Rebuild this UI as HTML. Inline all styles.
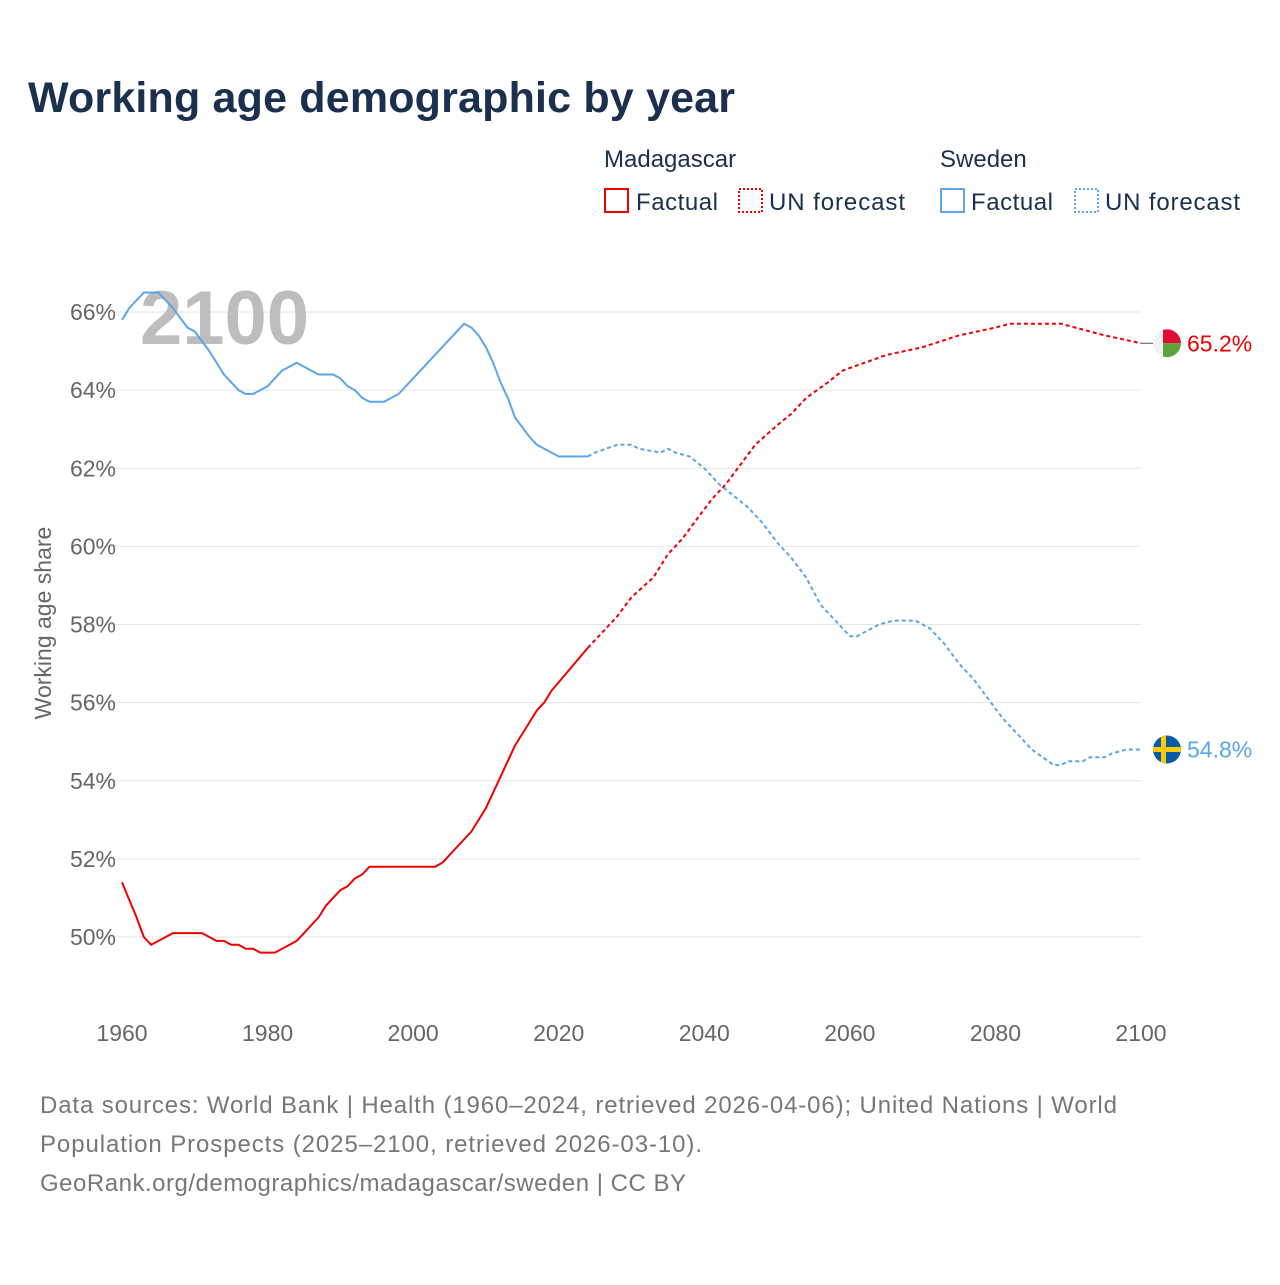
<!DOCTYPE html>
<html><head><meta charset="utf-8"><style>
body{margin:0;background:#fff;font-family:"Liberation Sans",sans-serif;}
svg text{font-family:"Liberation Sans",sans-serif;}
</style></head><body>
<svg width="1280" height="1280" xmlns="http://www.w3.org/2000/svg">
<text x="28" y="112" font-size="43" font-weight="bold" fill="#1b2f4f" textLength="707">Working age demographic by year</text>
<g font-size="24" fill="#1b2f4f">
<text x="604" y="167">Madagascar</text>
<text x="940" y="167">Sweden</text>
<rect x="605" y="189" width="23" height="23" fill="none" stroke="#ee0000" stroke-width="2"/>
<text x="636" y="210" textLength="82">Factual</text>
<rect x="739" y="189" width="23" height="23" fill="none" stroke="#ee0000" stroke-width="2" stroke-dasharray="2,2"/>
<text x="769" y="210" textLength="136">UN forecast</text>
<rect x="941" y="189" width="23" height="23" fill="none" stroke="#5aa5ec" stroke-width="2"/>
<text x="971" y="210" textLength="82">Factual</text>
<rect x="1075" y="189" width="23" height="23" fill="none" stroke="#5aa5ec" stroke-width="2" stroke-dasharray="2,2"/>
<text x="1105" y="210" textLength="135">UN forecast</text>
</g>
<g id="grid"></g>
<text x="140" y="344" font-size="76" font-weight="bold" fill="#bdbdbd">2100</text>
<text transform="translate(51,623) rotate(-90)" text-anchor="middle" font-size="23" fill="#666">Working age share</text>
<g id="plot"></g>
<g font-size="24" fill="#777">
<text x="40" y="1113" textLength="1077">Data sources: World Bank | Health (1960–2024, retrieved 2026-04-06); United Nations | World</text>
<text x="40" y="1152" textLength="662">Population Prospects (2025–2100, retrieved 2026-03-10).</text>
<text x="40" y="1191" textLength="646">GeoRank.org/demographics/madagascar/sweden | CC BY</text>
</g>
</svg>
<script>
const yTicks=[50,52,54,56,58,60,62,64,66];
const xTicks=[1960,1980,2000,2020,2040,2060,2080,2100];
const mdgFactualYears=[1960,1962,1963,1964,1966,1967,1970,1971,1973,1974,1975,1976,1977,1978,1979,1981,1984,1987,1988,1990,1991,1992,1993,1994,2003,2004,2008,2010,2012,2014,2017,2018,2019,2024];
const mdgFactual=[51.4,50.5,50.0,49.8,50.0,50.1,50.1,50.1,49.9,49.9,49.8,49.8,49.7,49.7,49.6,49.6,49.9,50.5,50.8,51.2,51.3,51.5,51.6,51.8,51.8,51.9,52.7,53.3,54.1,54.9,55.8,56.0,56.3,57.4];
const mdgForecastYears=[2024,2025,2028,2030,2033,2035,2037,2039,2041,2043,2045,2047,2050,2052,2054,2057,2059,2062,2065,2070,2075,2080,2082,2089,2091,2095,2100];
const mdgForecast=[57.4,57.6,58.2,58.7,59.2,59.8,60.2,60.7,61.2,61.6,62.1,62.6,63.1,63.4,63.8,64.2,64.5,64.7,64.9,65.1,65.4,65.6,65.7,65.7,65.6,65.4,65.2];
const sweFactualYears=[1960,1961,1963,1965,1967,1969,1970,1972,1974,1976,1977,1978,1980,1982,1984,1987,1989,1990,1991,1992,1993,1994,1996,1998,2007,2008,2009,2010,2011,2012,2013,2014,2016,2017,2020,2024];
const sweFactual=[65.8,66.1,66.5,66.5,66.1,65.6,65.5,65.0,64.4,64.0,63.9,63.9,64.1,64.5,64.7,64.4,64.4,64.3,64.1,64.0,63.8,63.7,63.7,63.9,65.7,65.6,65.4,65.1,64.7,64.2,63.8,63.3,62.8,62.6,62.3,62.3];
const sweForecastYears=[2024,2025,2028,2030,2031,2034,2035,2036,2038,2040,2042,2044,2046,2048,2050,2052,2054,2056,2058,2060,2061,2064,2066,2069,2071,2073,2075,2077,2079,2081,2083,2085,2088,2089,2090,2092,2093,2095,2096,2098,2100];
const sweForecast=[62.3,62.4,62.6,62.6,62.5,62.4,62.5,62.4,62.3,62.0,61.6,61.3,61.0,60.6,60.1,59.7,59.2,58.5,58.1,57.7,57.7,58.0,58.1,58.1,57.9,57.5,57.0,56.6,56.1,55.6,55.2,54.8,54.4,54.4,54.5,54.5,54.6,54.6,54.7,54.8,54.8];
const endLabels=["65.2%","54.8%"];
const NS="http://www.w3.org/2000/svg";
const xs=y=>122+(y-1960)*(1019/140);
const ys=v=>937-(v-50)*(625/16);
function mk(t,a,p){const e=document.createElementNS(NS,t);for(const k in a)e.setAttribute(k,a[k]);p.appendChild(e);return e;}
const grid=document.getElementById('grid'),plot=document.getElementById('plot');
yTicks.forEach(v=>{
 const l=mk('line',{x1:100,x2:1141,y1:ys(v),y2:ys(v),stroke:'#e6e6e6','stroke-width':1},grid);
 
 
 const t=mk('text',{x:116,y:ys(v)+8,'text-anchor':'end','font-size':23,fill:'#666'},grid);t.textContent=v+'%';
 
 
});
xTicks.forEach(y=>{
 const t=mk('text',{x:xs(y),y:1041,'text-anchor':'middle','font-size':23,fill:'#666'},grid);t.textContent=y;
 
 
});
function line(yrs,vals,color,dash,name){
 const d=yrs.map((y,i)=>(i?'L':'M')+xs(y).toFixed(1)+','+ys(vals[i]).toFixed(1)).join('');
 const a={d:d,fill:'none',stroke:color,'stroke-width':2,'stroke-linejoin':'round'};
 if(dash)a['stroke-dasharray']='4,3';
 const p=mk('path',a,plot);
 
 
}
line(sweFactualYears,sweFactual,'#5aa5ec',false,'sweden-factual-line');
line(sweForecastYears,sweForecast,'#5aa5ec',true,'sweden-forecast-line');
line(mdgFactualYears,mdgFactual,'#ee0000',false,'madagascar-factual-line');
line(mdgForecastYears,mdgForecast,'#ee0000',true,'madagascar-forecast-line');
const mLast=mdgForecast[mdgForecast.length-1],sLast=sweForecast[sweForecast.length-1];
const fx=1167,my=ys(mLast),sy=ys(sLast);
mk('line',{x1:xs(2100),x2:fx-14,y1:my,y2:my,stroke:'#555','stroke-width':1},plot);
const g1=mk('g',{},plot);


mk('clipPath',{id:'c1'},g1);
mk('circle',{cx:fx,cy:my,r:14},document.getElementById('c1'));
const gg=mk('g',{'clip-path':'url(#c1)'},g1);
mk('rect',{x:fx-14,y:my-14,width:28,height:28,fill:'#f2f2f2'},gg);
mk('rect',{x:fx-4,y:my-14,width:18,height:14,fill:'#e00c32'},gg);
mk('rect',{x:fx-4,y:my,width:18,height:14,fill:'#5ea33a'},gg);
const g2=mk('g',{},plot);


mk('clipPath',{id:'c2'},g2);
mk('circle',{cx:fx,cy:sy,r:14},document.getElementById('c2'));
const g3=mk('g',{'clip-path':'url(#c2)'},g2);
mk('rect',{x:fx-14,y:sy-14,width:28,height:28,fill:'#0a5aa8'},g3);
mk('rect',{x:fx-14,y:sy-2.5,width:28,height:5,fill:'#fecc02'},g3);
mk('rect',{x:fx-6,y:sy-14,width:5,height:28,fill:'#fecc02'},g3);
const t1=mk('text',{x:1187,y:my+8,'font-size':23,fill:'#ee0000'},plot);t1.textContent=endLabels[0];


const t2=mk('text',{x:1187,y:sy+8,'font-size':23,fill:'#5aa5ec'},plot);t2.textContent=endLabels[1];


</script>
</body></html>
